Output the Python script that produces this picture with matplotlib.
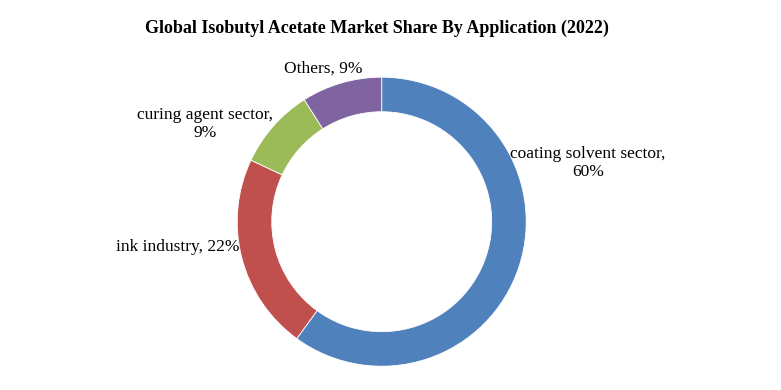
import matplotlib.pyplot as plt

categories = ['coating solvent sector', 'ink industry', 'curing agent sector', 'Others']
shares = [60, 22, 9, 9]
colors = ['#4F81BD', '#C0504D', '#9BBB59', '#8064A2']

# label text and placement (pixels, origin top-left)
label_text = ['coating solvent sector,\n60%', 'ink industry, 22%', 'curing agent sector,\n9%', 'Others, 9%']
label_pos = [(588, 163), (239, 247), (205, 124), (323, 69)]
label_ha = ['center', 'right', 'center', 'center']

W, H = 781, 390
fig = plt.figure(figsize=(7.81, 3.90), dpi=100)
ax = fig.add_axes([0, 0, 1, 1])

cx, cy, r = 381.7, H - 221.7, 144.5
ax.pie(shares, colors=colors, startangle=90, counterclock=False,
       center=(cx, cy), radius=r, frame=True,
       wedgeprops=dict(width=r * 0.239, edgecolor='white', linewidth=0.6))
ax.set_xlim(0, W)
ax.set_ylim(0, H)
ax.set_aspect('equal')
ax.axis('off')

for txt, (x, y), ha in zip(label_text, label_pos, label_ha):
    ax.text(x, H - y, txt, ha=ha, va='center', fontsize=12.5,
            family='Liberation Serif', linespacing=1.2)

fig.text(377 / W, 1 - 28 / H, 'Global Isobutyl Acetate Market Share By Application (2022)',
         ha='center', va='center', fontsize=13, fontweight='bold', family='Liberation Serif')

fig.savefig('out.png', dpi=100)
